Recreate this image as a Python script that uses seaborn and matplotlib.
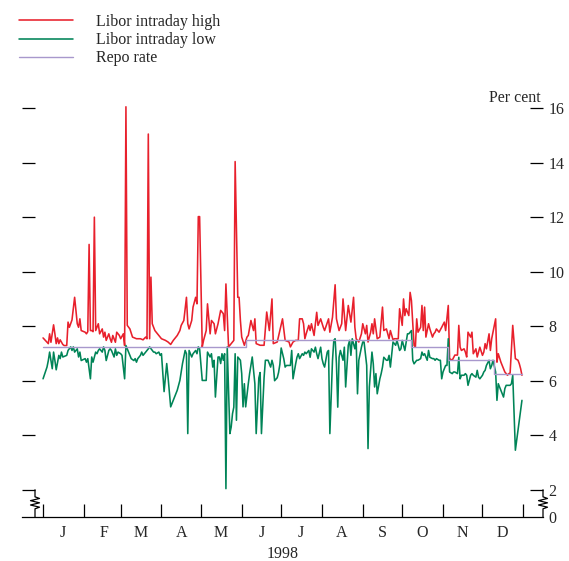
import pandas as pd
import seaborn as sns
import matplotlib.pyplot as plt
import matplotlib.dates as mdates
import matplotlib.ticker as mticker

START = pd.Timestamp("1998-01-01")

# Libor intraday high (day of year, per cent)
HIGH_DAYS = [0, 4, 5, 6, 8, 9, 10, 11, 12, 13, 15, 16, 18, 19, 20, 22, 24, 26, 27, 28,
             29, 32, 33, 34, 35, 36, 37, 38, 39, 40, 42, 43, 45, 46, 47, 48, 50, 51, 52, 53,
             55, 56, 58, 59, 61, 62, 63, 64, 66, 68, 71, 74, 76, 78, 79, 80, 81, 82, 83, 85,
             88, 90, 93, 95, 97, 99, 102, 104, 105, 107, 109, 110, 111, 113, 114, 116, 117, 118, 119, 121,
             122, 124, 125, 127, 128, 130, 131, 133, 135, 137, 138, 139, 141, 143, 145, 146, 148, 149, 150, 151,
             153, 155, 156, 158, 160, 161, 162, 165, 168, 170, 172, 174, 175, 178, 180, 182, 184, 187, 188, 190,
             192, 194, 195, 197, 198, 199, 200, 202, 203, 204, 206, 208, 209, 211, 213, 214, 217, 218, 220, 222,
             223, 225, 227, 228, 230, 232, 234, 236, 237, 238, 240, 242, 243, 245, 246, 247, 249, 250, 251, 252,
             254, 256, 258, 259, 261, 263, 264, 266, 267, 268, 270, 271, 273, 274, 275, 276, 278, 279, 280, 282,
             283, 284, 285, 287, 288, 289, 290, 291, 293, 294, 296, 297, 298, 299, 301, 303, 305, 306, 308, 309,
             311, 313, 315, 316, 317, 318, 320, 321, 322, 323, 325, 326, 327, 329, 330, 331, 332, 334, 335, 336,
             337, 339, 340, 341, 342, 344, 345, 346, 348, 350, 351, 353, 354, 355, 357, 359, 361, 362, 363, 364]
HIGH_VALS = [7.57, 7.36, 7.72, 7.41, 8.05, 7.72, 7.36, 7.57, 7.36, 7.50, 7.33, 7.29, 7.29, 8.15, 7.96, 8.23, 9.06, 8.09, 7.96, 8.27,
             7.84, 7.78, 7.72, 7.80, 11.0, 7.84, 7.84, 7.80, 12.0, 7.84, 8.09, 7.72, 7.90, 7.60, 7.78, 7.48, 7.72, 7.54, 7.41, 7.66,
             7.41, 7.78, 7.66, 7.54, 7.72, 7.29, 16.05, 8.03, 7.90, 7.60, 7.54, 7.54, 7.50, 7.60, 7.54, 15.05, 7.54, 9.80, 8.09, 7.84,
             7.66, 7.54, 7.48, 7.42, 7.33, 7.48, 7.66, 7.84, 8.03, 8.21, 9.06, 8.09, 7.90, 8.21, 8.70, 9.06, 8.82, 12.02, 12.02, 7.24,
             7.48, 7.84, 8.82, 7.72, 8.21, 8.09, 7.72, 8.09, 8.58, 8.46, 7.84, 9.55, 7.24, 7.36, 7.48, 14.04, 9.06, 9.06, 8.21, 7.60,
             7.30, 7.60, 7.66, 8.21, 7.84, 8.27, 7.36, 7.30, 7.30, 8.52, 7.84, 9.00, 7.36, 7.42, 7.84, 8.27, 7.48, 7.42, 7.24, 7.42,
             7.48, 7.48, 8.27, 8.27, 8.09, 7.54, 7.72, 8.03, 7.84, 8.09, 7.66, 8.51, 8.03, 8.27, 7.96, 7.84, 8.27, 7.78, 8.33, 9.52,
             8.27, 7.84, 8.09, 9.00, 7.84, 8.76, 8.15, 9.06, 7.96, 7.54, 7.42, 7.72, 8.09, 7.72, 8.03, 7.42, 7.78, 8.09, 7.72, 8.27,
             7.54, 7.60, 8.70, 7.84, 7.90, 7.54, 7.84, 7.50, 7.54, 7.54, 7.54, 8.64, 8.03, 9.00, 8.39, 8.64, 8.39, 9.24, 8.94, 7.29,
             7.23, 8.27, 7.78, 7.96, 8.76, 7.84, 8.70, 7.60, 8.09, 7.90, 7.60, 7.72, 7.78, 7.90, 7.78, 7.96, 8.15, 7.84, 8.76, 6.81,
             6.75, 6.94, 6.94, 8.03, 7.23, 7.11, 7.17, 7.05, 6.87, 7.78, 7.60, 7.78, 6.99, 7.17, 6.87, 7.05, 7.23, 6.93, 7.05, 7.36,
             7.17, 7.72, 7.11, 7.54, 7.78, 8.27, 6.68, 6.99, 6.68, 6.44, 6.32, 6.20, 6.26, 6.28, 8.03, 6.81, 6.75, 6.62, 6.44, 6.20]

# Libor intraday low
LOW_DAYS = [0, 3, 4, 5, 7, 8, 9, 10, 12, 13, 14, 15, 18, 19, 21, 22, 23, 24, 26, 27,
            28, 29, 32, 33, 34, 36, 37, 38, 40, 41, 42, 43, 45, 46, 47, 48, 50, 51, 52, 54,
            55, 56, 57, 59, 60, 62, 63, 65, 66, 67, 69, 70, 71, 72, 74, 75, 76, 78, 79, 80,
            81, 83, 84, 85, 86, 88, 89, 90, 92, 94, 95, 97, 99, 102, 104, 106, 107, 108, 109, 110,
            111, 113, 114, 116, 117, 118, 119, 121, 122, 124, 125, 127, 128, 129, 130, 131, 133, 134, 135, 136,
            137, 138, 139, 140, 142, 143, 144, 145, 146, 147, 148, 150, 151, 152, 153, 154, 156, 157, 159, 160,
            161, 162, 164, 165, 166, 168, 169, 170, 171, 173, 174, 175, 176, 178, 179, 180, 181, 183, 184, 185,
            188, 189, 190, 192, 193, 194, 195, 197, 198, 199, 200, 202, 203, 204, 206, 207, 208, 209, 211, 212,
            213, 214, 216, 217, 218, 220, 221, 222, 223, 224, 225, 226, 228, 229, 230, 232, 233, 234, 235, 237,
            238, 239, 240, 242, 243, 244, 246, 247, 248, 250, 251, 252, 253, 254, 256, 257, 258, 259, 261, 262,
            263, 264, 266, 267, 268, 269, 271, 272, 273, 275, 276, 277, 278, 280, 281, 282, 284, 285, 287, 288,
            289, 290, 292, 293, 294, 296, 297, 298, 299, 301, 302, 303, 304, 306, 307, 308, 309, 311, 312, 313,
            315, 316, 317, 318, 320, 321, 322, 323, 325, 326, 327, 329, 330, 331, 332, 334, 335, 336, 337, 339,
            340, 341, 342, 344, 345, 346, 347, 348, 350, 351, 352, 353, 355, 356, 357, 359, 364]
LOW_VALS = [6.07, 6.50, 6.74, 7.05, 6.44, 7.05, 6.74, 6.40, 6.93, 6.81, 7.05, 6.87, 6.93, 7.11, 7.24, 7.11, 7.24, 7.05, 7.17, 6.87,
            7.05, 6.74, 6.81, 6.68, 6.81, 6.07, 6.87, 6.68, 7.05, 6.99, 7.11, 7.17, 7.05, 7.24, 7.11, 6.74, 7.11, 7.17, 7.11, 6.87,
            7.17, 6.93, 7.05, 6.99, 6.93, 6.07, 7.29, 7.05, 6.93, 6.81, 6.74, 6.81, 6.68, 6.81, 6.93, 7.05, 6.93, 7.05, 7.11, 7.17,
            7.24, 7.11, 7.05, 7.05, 6.99, 7.05, 6.93, 6.99, 5.60, 6.63, 6.14, 5.04, 5.28, 5.65, 6.01, 6.63, 6.87, 7.11, 6.99, 4.06,
            7.11, 6.87, 6.99, 7.11, 6.99, 7.24, 7.17, 6.01, 6.01, 6.01, 7.05, 6.87, 6.99, 6.50, 6.75, 5.40, 6.87, 6.87, 6.63, 6.99,
            6.75, 6.99, 2.04, 7.24, 4.06, 4.30, 4.79, 5.03, 6.99, 4.55, 6.87, 6.75, 6.26, 5.04, 5.89, 5.04, 5.89, 6.26, 6.87, 6.38,
            5.89, 4.06, 6.10, 6.30, 4.06, 6.11, 6.75, 6.75, 6.75, 6.50, 6.75, 6.56, 6.00, 6.11, 6.30, 6.60, 7.20, 6.80, 6.50, 6.56,
            6.56, 7.11, 6.07, 6.62, 6.86, 6.99, 6.81, 6.99, 6.93, 7.05, 6.99, 7.11, 6.86, 7.17, 7.05, 7.23, 6.99, 6.81, 7.23, 6.81,
            6.62, 6.50, 7.05, 7.11, 4.06, 6.75, 7.48, 7.54, 6.62, 5.03, 6.86, 7.11, 6.75, 7.23, 5.77, 7.30, 7.48, 6.93, 7.54, 7.17,
            7.48, 5.52, 6.75, 7.23, 7.42, 7.42, 6.56, 3.51, 5.77, 7.05, 6.62, 5.77, 6.26, 5.52, 6.07, 6.26, 6.50, 6.86, 6.75, 6.75,
            6.93, 6.50, 7.42, 7.36, 7.30, 7.48, 7.11, 7.17, 7.48, 7.11, 7.42, 7.72, 7.72, 7.84, 6.75, 6.62, 6.75, 6.75, 6.81, 7.05,
            6.93, 6.99, 6.75, 7.11, 6.86, 6.81, 6.81, 6.75, 6.81, 6.75, 6.75, 6.07, 6.32, 6.56, 6.56, 7.54, 6.32, 6.26, 6.32, 6.32,
            6.26, 6.86, 6.07, 6.20, 6.20, 6.26, 6.20, 5.83, 6.20, 6.26, 6.20, 6.13, 6.38, 6.13, 6.07, 6.20, 6.32, 6.38, 6.56, 6.75,
            6.44, 6.56, 6.75, 6.32, 5.28, 5.89, 5.77, 5.65, 5.40, 5.71, 5.83, 5.83, 5.83, 5.89, 6.20, 3.45, 5.28]

# Repo rate changes
REPO_DATES = ["1998-01-01", "1998-06-04", "1998-10-08", "1998-11-05", "1998-12-10", "1998-12-31"]
REPO_LEVELS = [7.25, 7.50, 7.25, 6.75, 6.25, 6.25]

MONTH_LABELS = ["J", "F", "M", "A", "M", "J", "J", "A", "S", "O", "N", "D"]
Y_TICKS = [1.0, 2, 4, 6, 8, 10, 12, 14, 16]
Y_LABELS = ["0", "2", "4", "6", "8", "10", "12", "14", "16"]

RED = "#e8202c"
GREEN = "#008457"
PURPLE = "#a898cc"

sns.set_theme(style="white")
plt.rcParams["font.family"] = ["Liberation Serif", "DejaVu Serif"]
plt.rcParams["font.size"] = 11.5

W, H = 569, 561
fig = plt.figure(figsize=(W / 100, H / 100), dpi=100)
ax = fig.add_axes([22 / W, 44 / H, 521 / W, 422.5 / H])

high = pd.DataFrame({"date": START + pd.to_timedelta(HIGH_DAYS, unit="D"), "rate": HIGH_VALS})
low = pd.DataFrame({"date": START + pd.to_timedelta(LOW_DAYS, unit="D"), "rate": LOW_VALS})
repo = pd.DataFrame({"date": pd.to_datetime(REPO_DATES), "rate": REPO_LEVELS})

sns.lineplot(data=high, x="date", y="rate", ax=ax, color=RED, lw=1.15, label="Libor intraday high")
sns.lineplot(data=low, x="date", y="rate", ax=ax, color=GREEN, lw=1.15, label="Libor intraday low")
sns.lineplot(data=repo, x="date", y="rate", ax=ax, color=PURPLE, lw=1.0,
             drawstyle="steps-post", label="Repo rate")

handles, labels = ax.get_legend_handles_labels()
ax.get_legend().remove()
fig.legend(handles, labels, loc="upper left", bbox_to_anchor=(19 / W, 1 - 14 / H),
           frameon=False, fontsize=11.5, handlelength=3.4, handletextpad=1.4,
           labelspacing=0.14, borderpad=0, borderaxespad=0)

ax.set_xlim(START - pd.Timedelta(days=16), START + pd.Timedelta(days=380))
ax.set_ylim(1.0, 16.5)

# x axis: month boundaries as ticks, month initials in between
month_starts = [mdates.date2num(pd.Timestamp(1998, m, 1)) for m in range(1, 13)]
month_starts.append(mdates.date2num(pd.Timestamp(1999, 1, 1)))
mid_months = [mdates.date2num(pd.Timestamp(1998, m, 16)) for m in range(1, 13)]
ax.xaxis.set_major_locator(mticker.FixedLocator(month_starts))
ax.xaxis.set_major_formatter(mticker.NullFormatter())
ax.xaxis.set_minor_locator(mticker.FixedLocator(mid_months))
ax.xaxis.set_minor_formatter(mticker.FixedFormatter(MONTH_LABELS))
ax.tick_params(axis="x", which="major", direction="in", length=9.4, width=0.9,
               color="black", bottom=True, top=False)
ax.tick_params(axis="x", which="minor", length=0, pad=6, labelsize=11.5)
ax.set_xlabel("1998", fontsize=11.5, labelpad=3)

# y axis: ticks on both sides, labels on the right
ax.set_yticks(Y_TICKS)
ax.set_yticklabels(Y_LABELS)
ax.tick_params(axis="y", direction="in", length=9.4, width=0.9, color="black",
               left=True, right=True, labelleft=False, labelright=True, pad=4, labelsize=11.5)
first = ax.yaxis.get_major_ticks()[0]
first.tick1line.set_visible(False)
first.tick2line.set_visible(False)
ax.set_ylabel("")

for side in ["left", "right", "top"]:
    ax.spines[side].set_visible(False)
ax.spines["bottom"].set_color("black")
ax.spines["bottom"].set_linewidth(0.9)

# axis-break marks between 0 and 2
trans = ax.get_yaxis_transform()
zig_y = [2.0, 1.74, 1.68, 1.60, 1.52, 1.44, 1.36, 1.30, 1.0]
zig_dx = [0, 0, 4.5, -4.5, 4.5, -4.5, 4.5, 0, 0]
for x0 in [13 / 521, 1.0]:
    ax.plot([x0 + d / 521 for d in zig_dx], zig_y, transform=trans, color="black",
            lw=0.9, clip_on=False)

fig.text(541 / W, 1 - 102 / H, "Per cent", ha="right", va="baseline", fontsize=11.5)

fig.savefig("out.png", dpi=100)
